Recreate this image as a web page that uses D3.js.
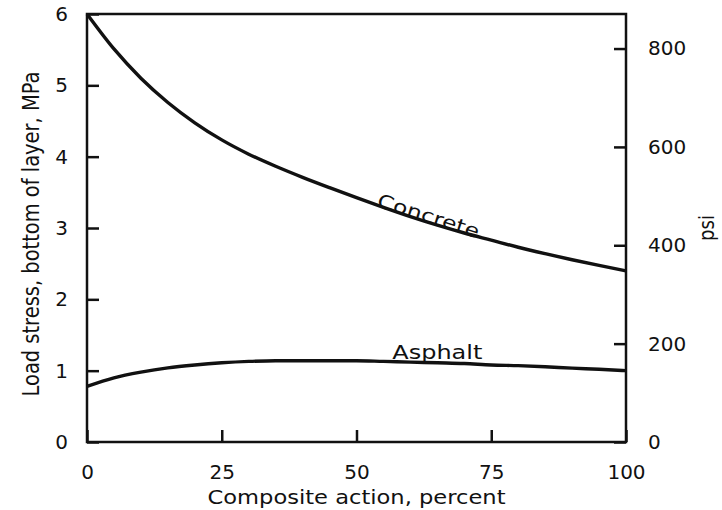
<!DOCTYPE html>
<html>
<head>
<meta charset="utf-8">
<script src="https://cdn.jsdelivr.net/npm/d3@7"></script>
<style>
  body { margin: 0; background: #fff; }
  svg { display: block; }
  text { font-family: "DejaVu Sans", sans-serif; fill: #111; }
</style>
</head>
<body>
<script>
/* ---------------------------- */
/* DATA                         */
/* ---------------------------- */

// Composite action, percent
const composite = [0, 5, 10, 15, 20, 25, 30, 35, 40, 45, 50, 55, 60, 65, 70, 75, 80, 85, 90, 95, 100];
// Load stress at bottom of layer, MPa
const concrete = [6.0, 5.51, 5.10, 4.76, 4.475, 4.235, 4.035, 3.865, 3.71, 3.565, 3.425, 3.29, 3.16, 3.04, 2.93, 2.83, 2.73, 2.64, 2.555, 2.475, 2.40];
const asphalt  = [0.78, 0.90, 0.98, 1.04, 1.08, 1.11, 1.13, 1.14, 1.14, 1.14, 1.14, 1.13, 1.12, 1.11, 1.10, 1.08, 1.07, 1.055, 1.035, 1.02, 1.0];

const pctTicks = [0, 25, 50, 75, 100];
const mpaTicks = [0, 1, 2, 3, 4, 5, 6];
const psiTicks = [0, 200, 400, 600, 800];
const psiPerMpa = 145.04;

/* ---------------------------- */
/* CANVAS                       */
/* ---------------------------- */

const W = 722, H = 510;
const margin = {top: 14, right: 96, bottom: 68, left: 87};
const w = W - margin.left - margin.right;
const h = H - margin.top - margin.bottom;

const svg = d3.select("body").append("svg")
    .attr("width", W)
    .attr("height", H);

const g = svg.append("g")
    .attr("transform", `translate(${margin.left},${margin.top})`);

const x = d3.scaleLinear().domain([0, 100]).range([0, w]);
const y = d3.scaleLinear().domain([0, 6]).range([h, 0]);
const yPsi = d3.scaleLinear().domain([0, 6 * psiPerMpa]).range([h, 0]);

/* ---------------------------- */
/* AXES                         */
/* ---------------------------- */

// ticks point inward, so padding is the label gap
g.append("g")
    .attr("transform", `translate(0,${h})`)
    .call(d3.axisBottom(x).tickValues(pctTicks).tickSizeInner(-12).tickSizeOuter(0).tickPadding(23))
    .call(ax => ax.select(".domain").remove());

g.append("g")
    .call(d3.axisLeft(y).tickValues(mpaTicks).tickFormat(d3.format("d"))
        .tickSizeInner(-12).tickSizeOuter(0).tickPadding(19))
    .call(ax => ax.select(".domain").remove());

g.append("g")
    .attr("transform", `translate(${w},0)`)
    .call(d3.axisRight(yPsi).tickValues(psiTicks).tickSizeInner(-12).tickSizeOuter(0).tickPadding(22))
    .call(ax => ax.select(".domain").remove());

g.selectAll(".tick line").attr("stroke", "#111").attr("stroke-width", 2.5);
g.selectAll(".tick text")
    .attr("font-size", 20)
    .attr("font-family", "DejaVu Sans")
    .attr("fill", "#111");

// frame round the plot
g.append("rect")
    .attr("width", w)
    .attr("height", h)
    .attr("fill", "none")
    .attr("stroke", "#111")
    .attr("stroke-width", 2.5);

/* ---------------------------- */
/* CURVES                       */
/* ---------------------------- */

const line = d3.line()
    .x(d => x(d[0]))
    .y(d => y(d[1]))
    .curve(d3.curveMonotoneX);

[concrete, asphalt].forEach(series => {
    g.append("path")
        .datum(composite.map((c, i) => [c, series[i]]))
        .attr("fill", "none")
        .attr("stroke", "#111")
        .attr("stroke-width", 3.4)
        .attr("d", line);
});

// curve labels (scan font is wider, so stretch a bit)
g.append("text")
    .attr("transform", `translate(${x(63)},${y(3.08)}) rotate(17.5)`)
    .attr("text-anchor", "middle")
    .attr("font-size", 19)
    .attr("textLength", 106)
    .attr("lengthAdjust", "spacingAndGlyphs")
    .text("Concrete");

g.append("text")
    .attr("x", x(65))
    .attr("y", y(1.17))
    .attr("text-anchor", "middle")
    .attr("font-size", 19)
    .attr("textLength", 90)
    .attr("lengthAdjust", "spacingAndGlyphs")
    .text("Asphalt");

/* ---------------------------- */
/* TITLES                       */
/* ---------------------------- */

svg.append("text")
    .attr("x", margin.left + w / 2)
    .attr("y", 504)
    .attr("text-anchor", "middle")
    .attr("font-size", 20)
    .attr("textLength", 298)
    .attr("lengthAdjust", "spacingAndGlyphs")
    .text("Composite action, percent");

svg.append("text")
    .attr("transform", "translate(39,234) rotate(-90)")
    .attr("text-anchor", "middle")
    .attr("font-size", 23)
    .attr("textLength", 325)
    .attr("lengthAdjust", "spacingAndGlyphs")
    .text("Load stress, bottom of layer, MPa");

svg.append("text")
    .attr("transform", "translate(714,228) rotate(-90)")
    .attr("text-anchor", "middle")
    .attr("font-size", 22)
    .attr("textLength", 26)
    .attr("lengthAdjust", "spacingAndGlyphs")
    .text("psi");
</script>
</body>
</html>
